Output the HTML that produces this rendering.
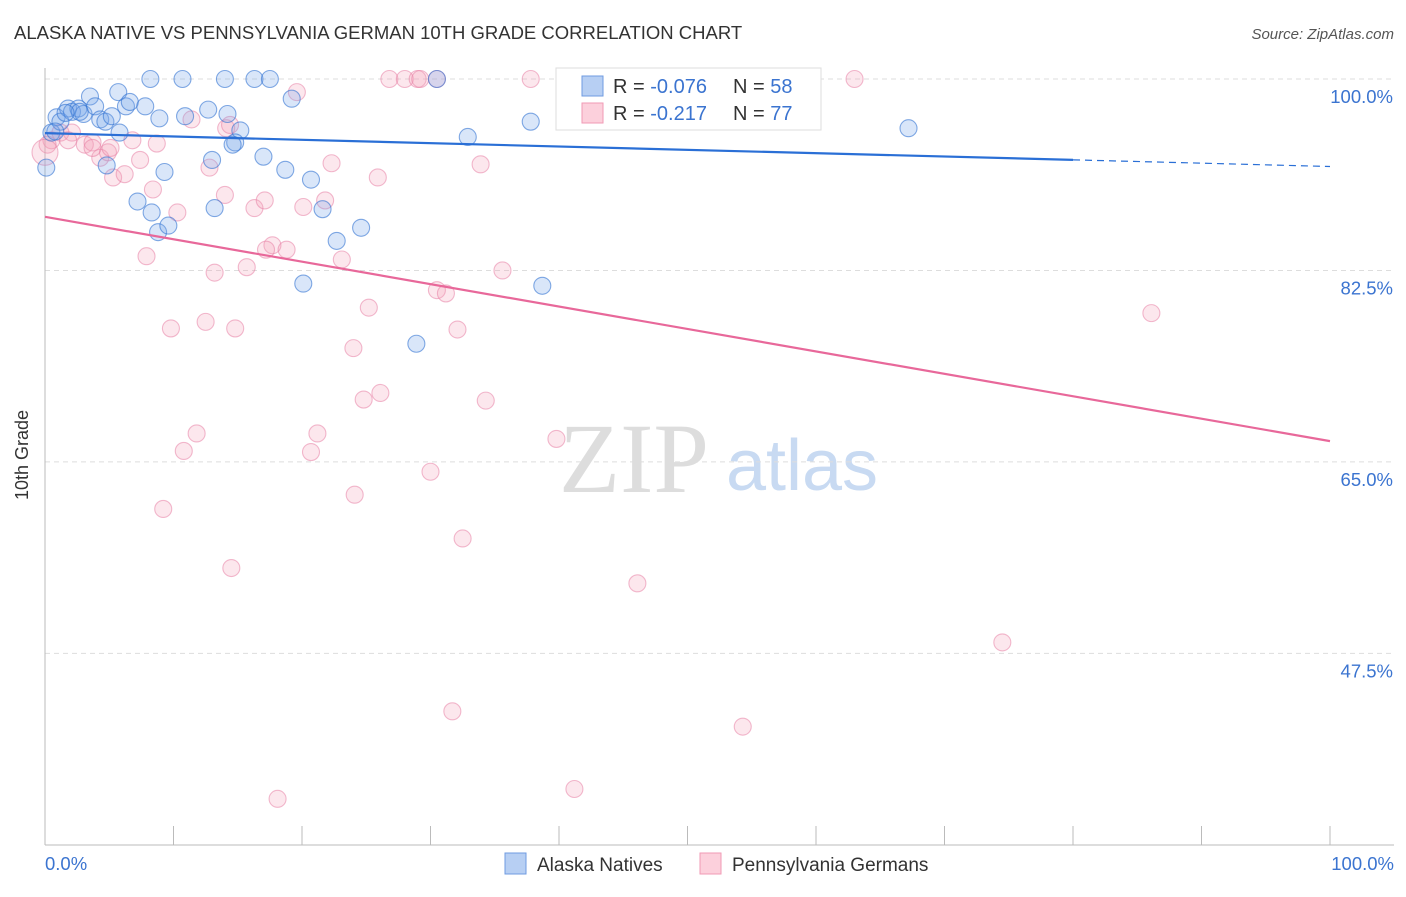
<!DOCTYPE html>
<html><head><meta charset="utf-8"><style>
body{margin:0;background:#fff;font-family:"Liberation Sans",sans-serif}
</style></head><body>
<svg id="c" width="1406" height="892" xmlns="http://www.w3.org/2000/svg">
<text x="14" y="39" font-size="18.5" fill="#333">ALASKA NATIVE VS PENNSYLVANIA GERMAN 10TH GRADE CORRELATION CHART</text>
<text x="1394" y="39" font-size="15" fill="#555" text-anchor="end" font-style="italic">Source: ZipAtlas.com</text>
<g><text x="634" y="492" font-size="100" fill="#ddd" font-family="Liberation Serif,serif" text-anchor="middle">ZIP</text><text x="802" y="490" font-size="72" fill="#c8daf2" text-anchor="middle">atlas</text></g>
<g id="grid"></g><g id="axes"></g><g id="pts"></g><g id="lines"></g>
<text x="28" y="455" font-size="18" fill="#333" text-anchor="middle" transform="rotate(-90 28 455)">10th Grade</text>
<text x="45" y="870" font-size="18.5" fill="#3b74d0">0.0%</text>
<text x="1394" y="870" font-size="18.5" fill="#3b74d0" text-anchor="end">100.0%</text>
<g>
<rect x="556" y="68" width="265" height="62" fill="#fff" stroke="#ddd"/>
<rect x="582" y="76" width="21" height="20" fill="#b7cff3" stroke="#6f9be0"/>
<rect x="582" y="103" width="21" height="20" fill="#fcd0dc" stroke="#f09ab5"/>
<text x="613" y="93" font-size="20" fill="#333">R = <tspan fill="#3b74d0">-0.076</tspan><tspan x="733">N = </tspan><tspan fill="#3b74d0">58</tspan></text>
<text x="613" y="120" font-size="20" fill="#333">R = <tspan fill="#3b74d0"> -0.217</tspan><tspan x="733">N = </tspan><tspan fill="#3b74d0">77</tspan></text>
</g>
<g>
<rect x="505" y="853" width="21" height="21" fill="#b7cff3" stroke="#6f9be0"/>
<text x="537" y="871" font-size="19" fill="#333">Alaska Natives</text>
<rect x="700" y="853" width="21" height="21" fill="#fcd0dc" stroke="#f09ab5"/>
<text x="732" y="871" font-size="19" fill="#333">Pennsylvania Germans</text>
</g>
</svg>
<script>
const yTicks=[100,82.5,65,47.5];
const xTicks=[0,10,20,30,40,50,60,70,80,90,100];
const blueX=[8.2,10.7,14.0,16.3,17.5,30.5,41.5,44.7,0.1,0.9,0.5,1.2,1.8,2.1,2.6,3.0,3.5,3.9,4.3,4.7,5.2,5.7,5.8,6.3,6.6,7.8,8.9,10.9,12.7,14.2,15.2,14.8,13.0,9.3,7.2,8.3,8.8,9.6,13.2,17.0,18.7,19.2,20.7,21.6,22.7,24.6,20.1,28.9,32.9,37.8,38.7,67.2,4.8,2.7,1.6,0.8,14.6,43.2];
const blueY=[100,100,100,100,100,100,100,100,91.9,96.5,95.1,96.1,97.3,97.0,97.3,96.8,98.4,97.5,96.3,96.1,96.6,98.8,95.1,97.5,97.9,97.5,96.4,96.6,97.2,96.8,95.3,94.2,92.6,91.5,88.8,87.8,86.0,86.6,88.2,92.9,91.7,98.2,90.8,88.1,85.2,86.4,81.3,75.8,94.7,96.1,81.1,95.5,92.1,97.0,96.9,95.2,94.0,100];
const pinkX=[26.8,28.0,29.0,29.2,30.5,37.8,47.1,58.4,63.0,19.6,11.4,14.1,0.5,1.2,2.1,3.1,3.7,4.3,4.9,5.3,6.2,6.8,7.4,8.7,8.4,10.3,12.8,16.3,17.1,17.7,17.2,18.8,20.1,21.8,22.3,25.9,33.9,7.9,13.2,15.7,23.1,35.6,30.5,31.2,25.2,9.8,12.5,14.8,32.1,24.0,26.1,24.8,34.3,86.1,11.8,10.8,21.2,20.7,39.8,30.0,24.1,9.2,32.5,14.5,46.1,74.5,31.7,54.3,41.2,18.1,0.2,1.8,0,14.4,3.7,5.1,14.0];
const pinkY=[100,100,100,100,100,100,100,100,100,98.8,96.3,95.5,94.4,95.1,95.1,94.0,94.2,92.8,93.3,91.0,91.3,94.4,92.6,94.1,89.9,87.8,91.9,88.2,88.9,84.8,84.4,84.4,88.3,88.9,92.3,91.0,92.2,83.8,82.3,82.8,83.5,82.5,80.7,80.4,79.1,77.2,77.8,77.2,77.1,75.4,71.3,70.7,70.6,78.6,67.6,66.0,67.6,65.9,67.1,64.1,62.0,60.7,58.0,55.3,53.9,48.5,42.2,40.8,35.1,34.2,94.0,94.4,93.3,95.8,93.7,93.7,89.4];
const blueTrend=[95.05,92.0], pinkTrend=[87.4,66.9];
const X=v=>45+v*12.85, Y=v=>79+(100-v)*10.94;
const NS='http://www.w3.org/2000/svg';
function mk(p,t,a){const e=document.createElementNS(NS,t);for(const k in a)e.setAttribute(k,a[k]);p.appendChild(e);return e;}
const grid=document.getElementById('grid'),axes=document.getElementById('axes'),pts=document.getElementById('pts'),lines=document.getElementById('lines');
yTicks.forEach(t=>{const l=mk(grid,'line',{x1:45,x2:1394,y1:Y(t),y2:Y(t),stroke:'#ddd','stroke-dasharray':'5,4'});


const tx=mk(grid,'text',{x:1393,y:Y(t)+24,'font-size':18.5,fill:'#3b74d0','text-anchor':'end'});tx.textContent=t.toFixed(1)+'%';

});
const ax=mk(axes,'line',{x1:45,x2:45,y1:68,y2:845,stroke:'#bbb'});


const bx=mk(axes,'line',{x1:45,x2:1394,y1:845,y2:845,stroke:'#bbb'});


xTicks.forEach(t=>{const l=mk(axes,'line',{x1:X(t),x2:X(t),y1:826,y2:845,stroke:'#bbb'});

});
function dots(xs,ys,fill,stroke,name){xs.forEach((x,i)=>{const c=mk(pts,'circle',{cx:X(x),cy:Y(ys[i]),r:(x===0?13:8.5),fill:fill,stroke:stroke,'stroke-width':1.1});

});}
dots(pinkX,pinkY,'rgba(245,160,185,0.25)','rgba(232,130,165,0.55)','pennsylvania-point');
dots(blueX,blueY,'rgba(120,165,235,0.28)','rgba(50,115,210,0.6)','alaska-point');
const yb=v=>blueTrend[0]+(blueTrend[1]-blueTrend[0])*v/100;
let l1=mk(lines,'line',{x1:X(0),y1:Y(yb(0)),x2:X(80),y2:Y(yb(80)),stroke:'#2a6fd6','stroke-width':2.2});


let l2=mk(lines,'line',{x1:X(80),y1:Y(yb(80)),x2:X(100),y2:Y(yb(100)),stroke:'#2a6fd6','stroke-width':1.2,'stroke-dasharray':'7,5'});


let l3=mk(lines,'line',{x1:X(0),y1:Y(pinkTrend[0]),x2:X(100),y2:Y(pinkTrend[1]),stroke:'#e8689a','stroke-width':2.2});


</script>
</body></html>
